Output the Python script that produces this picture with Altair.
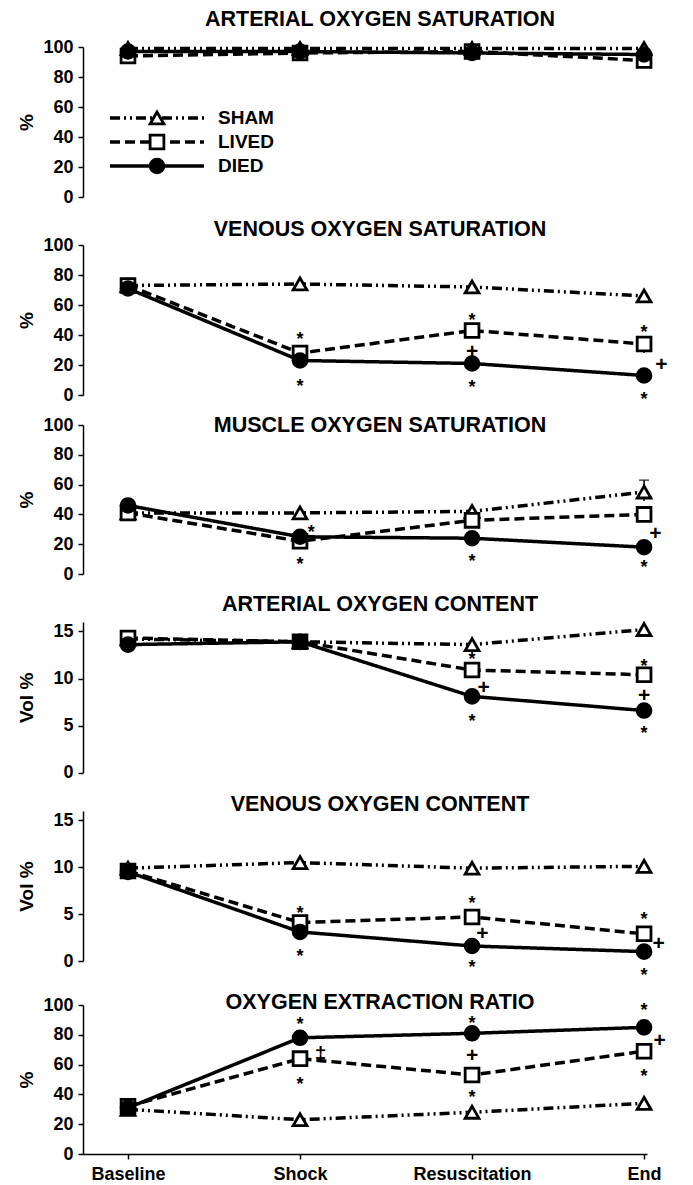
import json
import altair as alt
import pandas as pd

# ---------------- data ----------------
CATEGORIES = ["Baseline", "Shock", "Resuscitation", "End"]
SERIES = ["SHAM", "LIVED", "DIED"]

PANEL_TITLES = [
    "ARTERIAL OXYGEN SATURATION",
    "VENOUS OXYGEN SATURATION",
    "MUSCLE OXYGEN SATURATION",
    "ARTERIAL OXYGEN CONTENT",
    "VENOUS OXYGEN CONTENT",
    "OXYGEN EXTRACTION RATIO",
]
Y_TITLES = ["%", "%", "%", "Vol %", "Vol %", "%"]
Y_MAX = [100, 100, 100, 16, 16, 100]
PCT_TICKS = [0, 20, 40, 60, 80, 100]
VOL_TICKS = [0, 5, 10, 15]

ART_SAT_SHAM = [99, 99, 99, 99]
ART_SAT_LIVED = [94, 96, 97, 91]
ART_SAT_DIED = [97, 97, 96, 95]

VEN_SAT_SHAM = [73, 74, 72, 66]
VEN_SAT_LIVED = [73, 28, 43, 34]
VEN_SAT_DIED = [71, 23, 21, 13]

MUS_SAT_SHAM = [41, 41, 42, 55]
MUS_SAT_LIVED = [41, 22, 36, 40]
MUS_SAT_DIED = [46, 25, 24, 18]

ART_CON_SHAM = [14.2, 13.9, 13.6, 15.2]
ART_CON_LIVED = [14.3, 13.9, 10.9, 10.4]
ART_CON_DIED = [13.6, 13.9, 8.1, 6.6]

VEN_CON_SHAM = [9.9, 10.5, 9.9, 10.1]
VEN_CON_LIVED = [9.6, 4.1, 4.7, 2.9]
VEN_CON_DIED = [9.5, 3.1, 1.6, 1.0]

O2ER_SHAM = [30, 23, 28, 34]
O2ER_LIVED = [32, 64, 53, 69]
O2ER_DIED = [31, 78, 81, 85]

# significance marks: (x position in category units, value, symbol)
ART_SAT_NOTES = []
VEN_SAT_NOTES = [(1, 40, "*"), (1, 9, "*"), (2, 53, "*"), (2, 29, "+"), (2, 8, "*"),
                 (3, 45, "*"), (3.1, 20, "+"), (3, 0, "*")]
MUS_SAT_NOTES = [(1.065, 31, "*"), (1, 9.5, "*"), (2, 11.5, "*"), (3.065, 27, "+"), (3, 7.5, "*")]
ART_CON_NOTES = [(2, 12.5, "*"), (2.067, 9.0, "+"), (2, 5.9, "*"), (3, 11.8, "*"),
                 (3, 8.1, "+"), (3, 4.6, "*")]
VEN_CON_NOTES = [(1, 5.6, "*"), (1, 1.0, "*"), (2, 6.6, "*"), (2.06, 2.9, "+"), (2, -0.2, "*"),
                 (3, 4.9, "*"), (3.085, 1.8, "+"), (3, -1.1, "*")]
O2ER_NOTES = [(1, 90, "*"), (1.12, 66.5, "\u2021"), (1, 50, "*"), (2, 90.4, "*"), (2, 65.8, "+"),
              (2, 40.8, "*"), (3, 99, "*"), (3.09, 76, "+"), (3, 55.3, "*")]

# error bars: (x, low, high)
ART_SAT_ERR = []
VEN_SAT_ERR = [(3, 28, 38)]
MUS_SAT_ERR = [(3, 49, 63)]
ART_CON_ERR = [(1, 13.0, 14.6)]
VEN_CON_ERR = []
O2ER_ERR = []

PANELS = [
    (ART_SAT_SHAM, ART_SAT_LIVED, ART_SAT_DIED, ART_SAT_NOTES, ART_SAT_ERR),
    (VEN_SAT_SHAM, VEN_SAT_LIVED, VEN_SAT_DIED, VEN_SAT_NOTES, VEN_SAT_ERR),
    (MUS_SAT_SHAM, MUS_SAT_LIVED, MUS_SAT_DIED, MUS_SAT_NOTES, MUS_SAT_ERR),
    (ART_CON_SHAM, ART_CON_LIVED, ART_CON_DIED, ART_CON_NOTES, ART_CON_ERR),
    (VEN_CON_SHAM, VEN_CON_LIVED, VEN_CON_DIED, VEN_CON_NOTES, VEN_CON_ERR),
    (O2ER_SHAM, O2ER_LIVED, O2ER_DIED, O2ER_NOTES, O2ER_ERR),
]

# ---------------- layout / style ----------------
FONT = "Liberation Sans"
SLOT_H = [212, 195, 180, 200, 190, 169]
RANGE_TOP = [39, 25, 10, 27, 16, 20]
RANGE_BOT = [189, 175, 159, 177.7, 166, 169]
TITLE_OFFSET = [-39, -37, -38, -37, -37, -45]
PLOT_W = 564
X_DOMAIN = [-0.2616, 3.017]
LINE_W = 3.5
MARK_SIZE = 190

DASH = [[10, 4, 2, 4, 2, 4], [10, 5], [1, 0]]
SHAPES = ["triangle-up", "square", "circle"]
FILLS = ["white", "white", "black"]

dash_scale = alt.Scale(domain=SERIES, range=DASH)
shape_scale = alt.Scale(domain=SERIES, range=SHAPES)
fill_scale = alt.Scale(domain=SERIES, range=FILLS)

label_expr = json.dumps(CATEGORIES) + "[datum.value]"


def make_panel(i, sham, lived, died, notes, errs):
    rows = []
    for s, vals in zip(SERIES, [sham, lived, died]):
        for k, v in enumerate(vals):
            rows.append({"series": s, "x": k, "value": v})
    df = pd.DataFrame(rows)

    xs = alt.Scale(domain=X_DOMAIN, nice=False, zero=False)
    ys = alt.Scale(domain=[0, Y_MAX[i]], range=[RANGE_BOT[i], RANGE_TOP[i]],
                   nice=False, zero=False)
    if i == len(PANELS) - 1:
        xaxis = alt.Axis(values=[0, 1, 2, 3], labelExpr=label_expr, title=None,
                         grid=False, labelPadding=6)
    else:
        xaxis = None
    ticks = VOL_TICKS if Y_MAX[i] == 16 else PCT_TICKS
    yaxis = alt.Axis(values=ticks, title=Y_TITLES[i], titleX=-51,
                     titleBaseline="alphabetic", grid=False)

    x = alt.X("x:Q", scale=xs, axis=xaxis)
    y = alt.Y("value:Q", scale=ys, axis=yaxis)

    base = alt.Chart(df)
    layers = []
    for s in SERIES:
        layers.append(
            base.transform_filter(alt.datum.series == s)
            .mark_line(color="black", strokeWidth=LINE_W)
            .encode(x=x, y=y,
                    strokeDash=alt.StrokeDash("series:N", scale=dash_scale, legend=None))
        )
    if errs:
        edf = pd.DataFrame([{"x": a, "lo": b, "hi": c} for a, b, c in errs])
        eb = alt.Chart(edf)
        layers.append(eb.mark_rule(color="black", strokeWidth=1.5).encode(
            x=alt.X("x:Q", scale=xs, axis=xaxis),
            y=alt.Y("lo:Q", scale=ys, axis=yaxis), y2="hi:Q"))
        layers.append(eb.mark_tick(color="black", thickness=1.5, size=10, orient="horizontal").encode(
            x=alt.X("x:Q", scale=xs, axis=xaxis), y=alt.Y("hi:Q", scale=ys, axis=yaxis)))
    layers.append(
        base.mark_point(stroke="black", strokeWidth=2.8, size=MARK_SIZE, opacity=1)
        .encode(x=x, y=y,
                shape=alt.Shape("series:N", scale=shape_scale, legend=None),
                fill=alt.Fill("series:N", scale=fill_scale, legend=None))
    )
    if notes:
        ndf = pd.DataFrame([{"x": a, "value": b, "sym": c} for a, b, c in notes])
        star = ndf[ndf["sym"] == "*"]
        other = ndf[ndf["sym"] != "*"]
        if len(star):
            layers.append(alt.Chart(star).mark_text(fontSize=18, fontWeight="bold", font=FONT,
                                                    color="black", dy=5)
                          .encode(x=x, y=y, text="sym:N"))
        if len(other):
            layers.append(alt.Chart(other).mark_text(fontSize=21, fontWeight="bold", font=FONT,
                                                     color="black")
                          .encode(x=x, y=y, text="sym:N"))
    main = alt.layer(*layers)

    if i == 0:
        ldf = pd.DataFrame({"series": SERIES})
        lb = alt.Chart(ldf)
        ly = alt.Y("series:N", scale=alt.Scale(domain=SERIES, range=[98, 170]), axis=None)
        leg = alt.layer(
            lb.mark_rule(color="black", strokeWidth=LINE_W).encode(
                x=alt.value(27), x2=alt.value(121), y=ly,
                strokeDash=alt.StrokeDash("series:N", scale=dash_scale, legend=None)),
            lb.mark_point(stroke="black", strokeWidth=2.8, size=MARK_SIZE, opacity=1).encode(
                x=alt.value(74), y=ly,
                shape=alt.Shape("series:N", scale=shape_scale, legend=None),
                fill=alt.Fill("series:N", scale=fill_scale, legend=None)),
            lb.mark_text(align="left", baseline="middle", fontSize=19, fontWeight="bold",
                         font=FONT, color="black").encode(
                x=alt.value(135), y=ly, text="series:N"),
        )
        main = alt.layer(main, leg).resolve_scale(y="independent")

    return main.properties(
        width=PLOT_W, height=SLOT_H[i],
        title=alt.TitleParams(PANEL_TITLES[i], anchor="middle", frame="group", dx=15,
                              offset=TITLE_OFFSET[i], baseline="alphabetic",
                              fontSize=21.5, font=FONT, fontWeight="bold", color="black"),
    )


panels = [make_panel(i, *p) for i, p in enumerate(PANELS)]

chart = alt.vconcat(*panels, spacing=0, bounds="flush").properties(
    padding={"left": 9, "top": 0, "right": 10, "bottom": 5},
).configure(font=FONT).configure_view(stroke=None).configure_axis(
    domainColor="black", domainWidth=1.5, tickColor="black", tickWidth=1.5, tickSize=5,
    labelColor="black", labelFont=FONT, labelFontSize=18, labelFontWeight="bold",
    labelPadding=5, titleColor="black", titleFont=FONT, titleFontSize=19,
    titleFontWeight="bold",
)

chart.save("out.html", embed_options={"renderer": "svg", "actions": False})
